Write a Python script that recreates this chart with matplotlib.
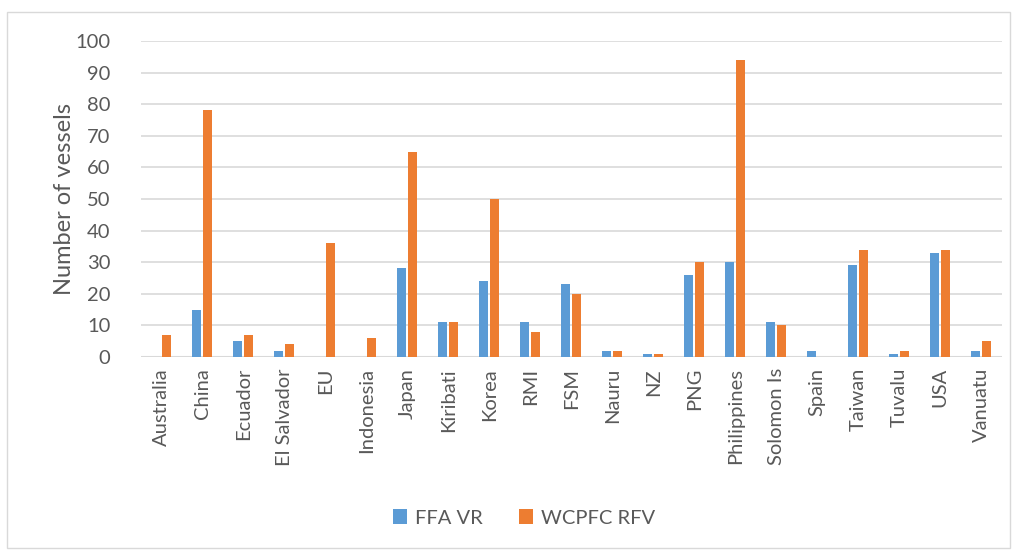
import numpy as np
import matplotlib.pyplot as plt
from matplotlib.patches import Rectangle

countries = ["Australia", "China", "Ecuador", "El Salvador", "EU", "Indonesia", "Japan",
             "Kiribati", "Korea", "RMI", "FSM", "Nauru", "NZ", "PNG", "Philippines",
             "Solomon Is", "Spain", "Taiwan", "Tuvalu", "USA", "Vanuatu"]
ffa_vr = [0, 15, 5, 2, 0, 0, 28, 11, 24, 11, 23, 2, 1, 26, 30, 11, 2, 29, 1, 33, 2]
wcpfc_rfv = [7, 78, 7, 4, 36, 6, 65, 11, 50, 8, 20, 2, 1, 30, 94, 10, 0, 34, 2, 34, 5]

plt.rcParams['font.family'] = ['Lato', 'DejaVu Sans']
text_color = '#595959'

fig = plt.figure(figsize=(10.17, 5.5), dpi=100)
ax = fig.add_axes([0.1386, 0.351, 0.8464, 0.5745])

# outer chart border
fig.patches.append(Rectangle((7 / 1017, 1 - 548 / 550), 1003 / 1017, 536 / 550,
                             transform=fig.transFigure, fill=False,
                             edgecolor='#d9d9d9', linewidth=1))

x = np.arange(len(countries))
w = 0.22
ax.bar(x - w / 2 - 0.025, ffa_vr, w, color='#5b9bd5', label='FFA VR', zorder=3)
ax.bar(x + w / 2 + 0.025, wcpfc_rfv, w, color='#ed7d31', label='WCPFC RFV', zorder=3)

ax.set_xlim(-0.5, len(countries) - 0.5)
ax.set_ylim(0, 100)
ax.set_yticks(range(0, 101, 10))
ax.grid(axis='y', color='#d9d9d9', linewidth=1.2, zorder=0)
for s in ax.spines.values():
    s.set_visible(False)
ax.axhline(0, color='#d9d9d9', linewidth=1.5, zorder=2)

ax.set_xticks(x)
ax.set_xticklabels(countries, rotation=90)
ax.tick_params(axis='both', length=0, labelsize=14.5, colors=text_color)
ax.tick_params(axis='y', pad=22)
ax.tick_params(axis='x', pad=8)
ax.set_ylabel("Number of vessels", fontsize=17, color=text_color, labelpad=0)

ax.legend(loc='center', bbox_to_anchor=(0.515, 1 - 518 / 550), bbox_transform=fig.transFigure,
          ncol=2, frameon=False, fontsize=14.5, labelcolor=text_color,
          handlelength=0.7, handleheight=0.7, columnspacing=1.8, handletextpad=0.4)

plt.savefig('out.png', dpi=100)
